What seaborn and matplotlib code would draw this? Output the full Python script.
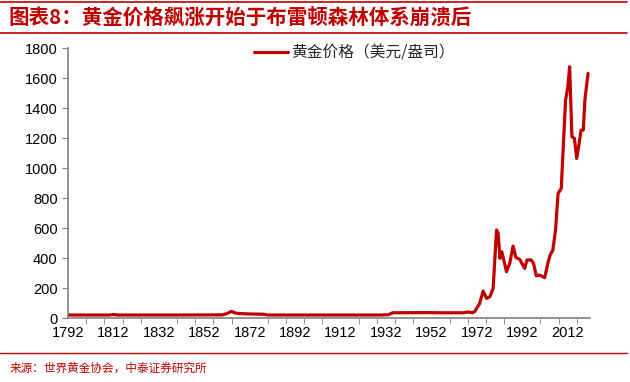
import numpy as np
import pandas as pd
import seaborn as sns
import matplotlib.pyplot as plt
from matplotlib.lines import Line2D

# data (x positions follow the chart's category axis)
years = [1792, 1800, 1810, 1812, 1814, 1820, 1840, 1860, 1862, 1864, 1866, 1870, 1878,
         1880, 1900, 1930, 1933, 1935, 1950, 1955, 1966, 1968, 1970, 1971, 1973.3, 1974.8,
         1976.3, 1977.8, 1979.2, 1980.7, 1981.4, 1982.2, 1983, 1983.9, 1985.1, 1986.5,
         1988, 1989.2, 1990.9, 1993.1, 1994.1, 1996, 1997, 1998.2, 1999.6, 2001.9, 2003.3,
         2004.3, 2005.5, 2006.7, 2007.8, 2009.2, 2011.1, 2012.1, 2012.9, 2013.9, 2015,
         2016, 2017.2, 2017.9, 2018.9, 2019.6, 2021]
prices = [20, 20, 20, 23, 20, 20, 20, 21, 30, 44, 32, 28, 25,
          20, 20, 20, 22, 35, 36, 35, 35, 40, 36, 41, 98, 180,
          131, 142, 198, 587, 565, 398, 442, 387, 309, 364,
          480, 404, 391, 331, 387, 387, 364, 282, 287, 269, 364,
          420, 453, 587, 831, 864, 1453, 1542, 1676, 1209, 1198,
          1064, 1176, 1253, 1253, 1453, 1631]
label_years = list(range(1792, 2013, 20))
minor_years = list(range(1792, 2017, 8))

df = pd.DataFrame({"year": years, "price": prices})

sns.set_style("white")
plt.rcParams['font.family'] = ['Noto Sans CJK SC', 'DejaVu Sans']

red = "#C00000"
fig = plt.figure(figsize=(6.3, 3.82), dpi=100)
ax = fig.add_axes([0.108, 0.1675, 0.829, 0.7065])
sns.lineplot(data=df, x="year", y="price", ax=ax, color=red, linewidth=2.3)

ax.set_xlim(1792, 2022)
ax.set_ylim(0, 1800)
ax.set_yticks(range(0, 1801, 200))
ax.set_xticks(label_years)
ax.set_xticks(minor_years, minor=True)
ax.tick_params(axis="x", which="major", length=0, pad=6)
ax.tick_params(axis="x", which="minor", length=4, color="#808080", direction="out", bottom=True)
ax.tick_params(axis="y", length=4, color="#808080", direction="out", left=True)
for lab in ax.get_xticklabels() + ax.get_yticklabels():
    lab.set_family(['Liberation Sans', 'DejaVu Sans'])
    lab.set_fontsize(10.5)
    lab.set_color("black")
ax.set_xlabel("")
ax.set_ylabel("")
for s in ["top", "right"]:
    ax.spines[s].set_visible(False)
for s in ["left", "bottom"]:
    ax.spines[s].set_color("#808080")
    ax.spines[s].set_linewidth(1.2)

handle = Line2D([0], [0], color=red, linewidth=2.3)
ax.legend([handle], ["黄金价格（美元/盎司）"], loc="upper center", bbox_to_anchor=(0.548, 1.065),
          frameon=False, fontsize=11.3, handlelength=2.2, handletextpad=0.2)

fig.add_artist(Line2D([0.0, 0.995], [0.995, 0.995], color=red, linewidth=1.2))
fig.add_artist(Line2D([0.0, 0.995], [0.913, 0.913], color=red, linewidth=1.2))
fig.add_artist(Line2D([0.0, 0.995], [0.076, 0.076], color=red, linewidth=1.0))
fig.text(0.013, 0.953, "图表8：黄金价格飙涨开始于布雷顿森林体系崩溃后", color=red,
         fontsize=14.8, fontweight="bold", style="italic", va="center", ha="left")
fig.text(0.016, 0.037, "来源：世界黄金协会，中泰证券研究所", color=red,
         fontsize=8.4, va="center", ha="left")

fig.savefig("out.png", dpi=100)
